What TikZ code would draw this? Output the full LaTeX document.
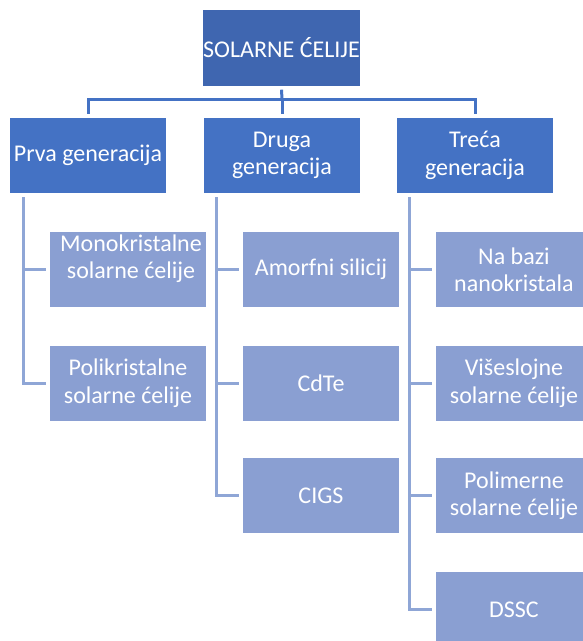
\documentclass[tikz,border=0pt]{standalone}
\usepackage{fontspec}
\setmainfont{Carlito}
\definecolor{topc}{HTML}{3F66B0}
\definecolor{genc}{HTML}{4472C4}
\definecolor{subc}{HTML}{8A9FD2}
\definecolor{linec}{HTML}{8FA6D6}
\begin{document}
\begin{tikzpicture}[x=1pt,y=-1pt,
  box/.style={rectangle, minimum width=156pt, minimum height=75pt, inner sep=0pt,
    text=white, font=\fontsize{24}{27.5}\selectfont, align=center},
  boxtext/.style={inner sep=0pt, text=white, font=\fontsize{24}{27.5}\selectfont, align=center},
  topbox/.style={box, fill=topc, minimum width=155pt, minimum height=76pt},
  genbox/.style={box, fill=genc},
  subbox/.style={box, fill=subc},
  mainline/.style={draw=genc, line width=3pt},
  subline/.style={draw=linec, line width=3pt}]
\useasboundingbox (0,0) rectangle (582,641);

% top
\node[topbox] (top) at (281.5,47.5) {SOLARNE ĆELIJE};
% generations
\node[genbox] (prva)  at (88,155.5)  {Prva generacija};
\node[genbox] (druga) at (282,155.5) {Druga\\generacija};
\node[genbox] (treca) at (475,155.5) {Treća\\generacija};

\coordinate (bus) at (282,99);
\draw[mainline] ([yshift=-4pt]top.south) -- (bus);
\draw[mainline] ([yshift=4pt]prva.north) |- (bus) -| ([yshift=4pt]treca.north);
\draw[mainline] (bus) -- ([yshift=4pt]druga.north);

% column 1
\node[subbox] (mono) at (128,269.5) {};
\node[boxtext] (monot) at ([xshift=3pt,yshift=11pt]mono.center) {Monokristalne\\solarne ćelije};
\node[subbox] (poli) at (128,383) {Polikristalne\\solarne ćelije};

% column 2
\node[subbox] (amorf) at (321,269.5) {Amorfni silicij};
\node[subbox] (cdte)  at (321,383)   {CdTe};
\node[subbox] (cigs)  at (321,495.5) {CIGS};

% column 3
\node[subbox] (nano)  at (514,269.5) {Na bazi\\nanokristala};
\node[subbox] (vise)  at (514,383)   {Višeslojne\\solarne ćelije};
\node[subbox] (poly)  at (514,495.5) {Polimerne\\solarne ćelije};
\node[subbox] (dssc)  at (514,609.5) {DSSC};

% sub connectors
\draw[subline] ([xshift=14pt,yshift=-4pt]prva.south west) |- ([xshift=-4pt]poli.west);
\draw[subline] ([xshift=14pt,yshift=-4pt]prva.south west) |- ([xshift=-4pt]mono.west);

\draw[subline] ([xshift=13pt,yshift=-4pt]druga.south west) |- ([xshift=-4pt]cigs.west);
\draw[subline] ([xshift=13pt,yshift=-4pt]druga.south west) |- ([xshift=-4pt]cdte.west);
\draw[subline] ([xshift=13pt,yshift=-4pt]druga.south west) |- ([xshift=-4pt]amorf.west);

\draw[subline] ([xshift=13pt,yshift=-4pt]treca.south west) |- ([xshift=-4pt]dssc.west);
\draw[subline] ([xshift=13pt,yshift=-4pt]treca.south west) |- ([xshift=-4pt]poly.west);
\draw[subline] ([xshift=13pt,yshift=-4pt]treca.south west) |- ([xshift=-4pt]vise.west);
\draw[subline] ([xshift=13pt,yshift=-4pt]treca.south west) |- ([xshift=-4pt]nano.west);
\end{tikzpicture}
\end{document}
